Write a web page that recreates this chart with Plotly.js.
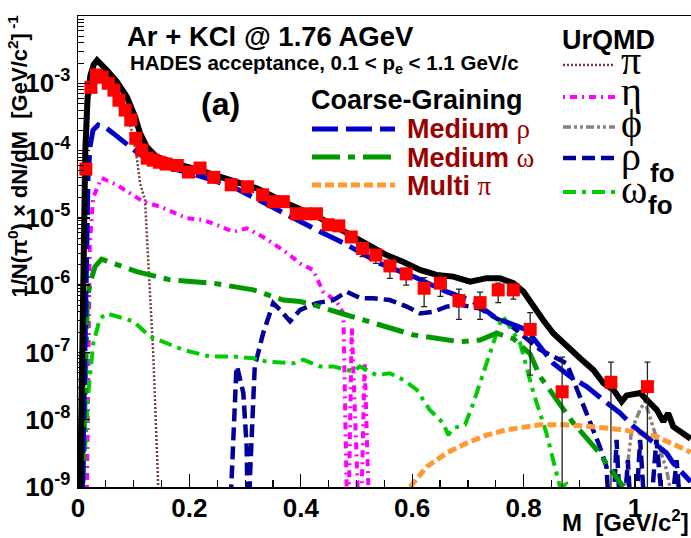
<!DOCTYPE html>
<html><head><meta charset="utf-8">
<script src="https://cdn.plot.ly/plotly-3.0.1.min.js"></script>
<style>html,body{margin:0;padding:0;background:#fff}#chart{width:691px;height:538px}</style>
</head><body><div id="chart"></div>
<script>
// ---------- HADES data (red squares) ----------
const dataM = [0.0141,0.0232,0.0332,0.0433,0.0544,0.0645,0.0735,0.0846,0.0947,0.1037,0.1143,0.1244,0.135,0.146,0.1581,0.1783,0.1984,0.2191,0.2437,0.275,0.3042,0.3314,0.3505,0.3686,0.3918,0.4089,0.4281,0.4492,0.4683,0.4905,0.5107,0.5348,0.56,0.5892,0.6214,0.6507,0.6839,0.7218,0.7544,0.7816,0.8118,0.8692,0.9568,1.0223];
const dataY = [5.3e-5,8.7e-4,1.33e-3,1.23e-3,1.0e-3,7.9e-4,5.6e-4,4.0e-4,2.85e-4,1.52e-4,1.02e-4,7.7e-5,7.2e-5,6.7e-5,6.3e-5,6.0e-5,4.8e-5,5.5e-5,4.0e-5,3.1e-5,2.9e-5,2.2e-5,1.74e-5,1.74e-5,1.15e-5,1.15e-5,1.15e-5,7.9e-6,7.6e-6,5.2e-6,3.5e-6,2.8e-6,1.93e-6,1.47e-6,9.0e-7,1.07e-6,5.9e-7,5.5e-7,8.5e-7,8.5e-7,2.2e-7,2.6e-8,3.6e-8,3.1e-8];
const dataErrUp = [0,0,0,0,0,0,0,0,0,0,0,0,0,0,0,0,0,0,0,0,0,0,0,0,0,0,0,0,0,0,5e-7,4e-7,4e-7,3e-7,3.9e-7,3.5e-7,2.8e-7,2.4e-7,2.2e-7,1.5e-7,1.7e-7,5.9e-8,3.6e-8,4.1e-8];
const dataErrDown = [0,0,0,0,0,0,0,0,0,0,0,0,0,0,0,0,0,0,0,0,0,0,0,0,0,0,0,0,0,0,8.5e-7,7e-7,6.7e-7,4.7e-7,4.2e-7,3.9e-7,2.8e-7,2.4e-7,3.0e-7,2.3e-7,1.74e-7,2.6e-8,3.6e-8,3.1e-8];

// ---------- Total (black) ----------
const totM = [0.004,0.0096,0.0131,0.0171,0.0222,0.0282,0.0342,0.0514,0.0695,0.0876,0.1023,0.1113,0.1234,0.141,0.1652,0.1954,0.2246,0.2548,0.285,0.3208,0.3747,0.4341,0.4945,0.554,0.5842,0.614,0.6436,0.6738,0.704,0.7337,0.7574,0.7816,0.7997,0.8174,0.835,0.8531,0.8773,0.9014,0.9252,0.9431,0.961,0.976,0.985,1.0092,1.0269,1.039,1.0508,1.0596,1.0686,1.0868,1.1];
const totY = [1e-9,2.4e-6,1e-4,6e-4,1.3e-3,1.9e-3,2.2e-3,1.58e-3,1.06e-3,6.3e-4,3.2e-4,1.82e-4,1.14e-4,8.1e-5,6.8e-5,5.75e-5,4.9e-5,4.1e-5,3.45e-5,2.75e-5,1.65e-5,1.0e-5,5.25e-6,2.8e-6,2.2e-6,1.68e-6,1.42e-6,1.34e-6,1.13e-6,1.27e-6,1.27e-6,1.07e-6,8.0e-7,4.8e-7,3.04e-7,1.93e-7,1.22e-7,8.2e-8,5.5e-8,3.5e-8,2.8e-8,1.86e-8,2.3e-8,2.5e-8,1.76e-8,1.4e-8,9.4e-9,1.25e-8,7.9e-9,6.3e-9,5.2e-9];

// ---------- Coarse-Graining ----------
const rhoM = [0.0081,0.0121,0.0179,0.0216,0.0269,0.0363,0.0504,0.0635,0.0903,0.1083,0.135,0.1591,0.2131,0.278,0.3676,0.4286,0.4824,0.5419,0.6023,0.6617,0.7097,0.7514,0.7755,0.8058,0.8294,0.8531,0.8833,0.9132,0.9427,0.973,0.9971,1.0269,1.0566,1.0686,1.0928,1.1];
const rhoY = [1e-9,2e-7,3.6e-5,1.15e-4,2.0e-4,2.4e-4,2.17e-4,1.8e-4,1.21e-4,9.1e-5,6.5e-5,5.8e-5,4.3e-5,2.9e-5,1.18e-5,6.6e-6,4.0e-6,2.1e-6,1.34e-6,8.0e-7,5.7e-7,3.2e-7,2.7e-7,2.16e-7,1.22e-7,6.9e-8,4.4e-8,3.1e-8,1.97e-8,1.26e-8,8.0e-9,5.0e-9,3.2e-9,2.26e-9,1.43e-9,1.2e-9];
const omM = [0.0091,0.0167,0.0216,0.0305,0.0423,0.0635,0.1054,0.1652,0.2427,0.3148,0.3686,0.3989,0.4225,0.4824,0.5419,0.6023,0.6436,0.6859,0.7218,0.7514,0.7816,0.8118,0.8294,0.8601,0.8894,0.9317,0.9609,0.979];
const omY = [1.2e-9,6.0e-7,1.07e-6,1.88e-6,2.43e-6,2.1e-6,1.59e-6,1.2e-6,1.07e-6,8.5e-7,6.0e-7,5.7e-7,5.1e-7,3.6e-7,2.57e-7,1.82e-7,1.62e-7,1.44e-7,1.53e-7,1.93e-7,1.6e-7,9.5e-8,4.4e-8,2.0e-8,8.9e-9,3.55e-9,1.6e-9,1e-9];
const mpiM = [0.5963,0.6261,0.6617,0.698,0.7337,0.7695,0.8294,0.8773,0.9193,0.979,1.039,1.0928,1.1];
const mpiY = [1e-9,2.0e-9,3.2e-9,4.5e-9,5.9e-9,7.1e-9,8.4e-9,8.4e-9,7.9e-9,7.1e-9,5.6e-9,3.55e-9,3.3e-9];

// ---------- UrQMD ----------
const piM = [0.0101,0.0141,0.0201,0.0302,0.0403,0.0604,0.0806,0.0964,0.1054,0.1113,0.1203,0.1262,0.1353,0.1441,0.147];
const piY = [1e-9,4e-5,6e-4,1.2e-3,1.2e-3,8.5e-4,4.5e-4,2.0e-4,8.1e-5,3.3e-5,1.85e-5,1.9e-6,8.7e-8,1e-9,1e-10];
const etaM = [0.0161,0.0181,0.0212,0.0272,0.0423,0.0695,0.0964,0.1172,0.147,0.1954,0.2246,0.2488,0.279,0.3029,0.3324,0.3686,0.3989,0.422,0.4401,0.4643,0.4764,0.4845,0.4915,0.5066,0.5147,0.5248];
const etaY = [1e-9,1e-7,4e-6,2e-5,3.9e-5,3.1e-5,2.2e-5,1.74e-5,1.47e-5,9.9e-6,9.3e-6,7.9e-6,6.2e-6,7.0e-6,5.2e-6,3.3e-6,2.1e-6,1.68e-6,8.0e-7,5.7e-7,3.8e-7,1e-10,2.4e-7,1e-10,6.9e-8,1e-10];
const phiM = [0.977,0.982,0.9941,1.009,1.018,1.0269,1.0445,1.0566,1.0626,1.0676];
const phiY = [1e-10,1e-9,7.1e-9,1.4e-8,1.86e-8,1.1e-8,4.0e-9,1.8e-9,1e-9,1e-10];
const rfoM = [0.2699,0.279,0.2843,0.2855,0.2968,0.3028,0.3057,0.3087,0.3173,0.3324,0.3505,0.3626,0.3807,0.3989,0.4286,0.4583,0.4824,0.5066,0.5298,0.56,0.5902,0.614,0.6376,0.6617,0.6859,0.7218,0.7514,0.7755,0.8058,0.8294,0.8773,0.9014,0.9196,0.9367,0.9488,0.9578,0.9669,0.977,0.9871,0.9971,1.0092,1.0223,1.0384,1.0576,1.0747,1.0878];
const rfoY = [1e-10,9.9e-9,5.5e-8,6.2e-8,2.5e-8,4.0e-9,1e-10,1.4e-9,6.2e-8,1.93e-7,5.4e-7,4.3e-7,2.9e-7,4.3e-7,5.4e-7,6.0e-7,8.0e-7,6.4e-7,6.4e-7,6.0e-7,4.8e-7,3.8e-7,4.0e-7,4.8e-7,5.1e-7,4.5e-7,3.2e-7,2.57e-7,1.55e-7,1.1e-7,6.9e-8,2.2e-8,8.9e-9,4e-9,2e-9,1e-10,5e-9,1e-10,2.5e-9,1e-10,5e-9,1e-10,5e-9,1e-10,2.5e-9,1e-10];
const ofoM = [0.0096,0.0185,0.0275,0.0395,0.0514,0.0993,0.1292,0.1891,0.2367,0.279,0.3153,0.3384,0.3868,0.4044,0.4346,0.4583,0.4824,0.4941,0.5059,0.5358,0.56,0.5842,0.6079,0.6315,0.6557,0.6648,0.6738,0.695,0.7097,0.7337,0.7574,0.7635,0.7937,0.8178,0.841,0.8652,0.8763,0.8863];
const ofoY = [1.27e-9,2.5e-8,1.37e-7,3.2e-7,3.8e-7,2.9e-7,1.72e-7,1.09e-7,8.7e-8,8.7e-8,8.2e-8,7.3e-8,6.9e-8,7.8e-8,6.2e-8,6.2e-8,5.5e-8,5.2e-8,6.2e-8,4.6e-8,4.9e-8,3.9e-8,2.8e-8,1.4e-8,8.9e-9,5.9e-9,7.5e-9,8.4e-9,1.76e-8,6.9e-8,2.7e-7,3.4e-7,1.37e-7,2.5e-8,6.3e-9,1e-9,1.1e-9,1e-10];

// ---------- tick labels ----------
const xTickVals = [0,0.2,0.4,0.6,0.8,1];
const xTickText = ['0','0.2','0.4','0.6','0.8','1'];
const yTickVals = [1e-9,1e-8,1e-7,1e-6,1e-5,1e-4,1e-3,1e-2];
const yTickText = ['10<sup>-9</sup>','10<sup>-8</sup>','10<sup>-7</sup>','10<sup>-6</sup>','10<sup>-5</sup>','10<sup>-4</sup>','10<sup>-3</sup>','10<sup>-2</sup>'];

// ---------- styles ----------
const S = {
  tot:{color:'#000000',width:6,dash:'solid'},
  rho:{color:'#0000cc',width:5,dash:'26px,8px'},
  om:{color:'#009900',width:5,dash:'28px,8px,7px,8px'},
  mpi:{color:'#ff9933',width:5,dash:'9px,4px'},
  pi:{color:'#7a3b3b',width:2.5,dash:'2px,2px'},
  eta:{color:'#ff00ff',width:4,dash:'2px,5px,7px,5px'},
  phi:{color:'#8c8078',width:3.5,dash:'8px,3px,3px,3px,3px,3px'},
  rfo:{color:'#000099',width:4.5,dash:'13px,6px'},
  ofo:{color:'#00cc00',width:4,dash:'13px,6px,4px,6px'}
};
function ln(x,y,s){return {type:'scatter',mode:'lines',x:x,y:y,line:{color:s.color,width:s.width,dash:s.dash},hoverinfo:'skip',showlegend:false,cliponaxis:true};}

const traces = [
  ln(piM,piY,S.pi), ln(etaM,etaY,S.eta), ln(phiM,phiY,S.phi), ln(rfoM,rfoY,S.rfo), ln(ofoM,ofoY,S.ofo),
  ln(mpiM,mpiY,S.mpi), ln(omM,omY,S.om), ln(rhoM,rhoY,S.rho),
  ln(totM,totY,S.tot),
  {type:'scatter',mode:'markers',x:dataM,y:dataY,showlegend:false,hoverinfo:'skip',
   marker:{symbol:'square',size:13,color:'#ff0000',line:{width:0}},
   error_y:{type:'data',symmetric:false,array:dataErrUp,arrayminus:dataErrDown,color:'#222',thickness:1.3,width:3}}
];

// ---------- geometry helpers (pixel -> paper) ----------
const L=78,R=691,T=16,B=487;
function px(x){return (x-L)/(R-L);}
function py(y){return (B-y)/(B-T);}

const FF='Liberation Sans, Arial, sans-serif';
function ann(text,x,y,size,opts){
  return Object.assign({text:text,xref:'paper',yref:'paper',x:px(x),y:py(y),showarrow:false,
    xanchor:'left',yanchor:'middle',font:{family:FF,size:size,color:'#000',weight:700}},opts||{});
}
const G = 'font-family:Liberation Serif, serif;font-weight:normal';
const DR = {family:FF,size:27,color:'#990000',weight:700};
const annotations = [
  ann('1/N(π<sup>0</sup>) × dN/dM&nbsp;&nbsp;[GeV/c<sup>2</sup>]<sup> -1</sup>',17,13,22,{xanchor:'center',yanchor:'top',textangle:-90}),
  ann('M&nbsp;&nbsp;[GeV/c<sup>2</sup>]',691,521,24,{xanchor:'right'}),
  ann('Ar + KCl @ 1.76 AGeV',125,36,27.5),
  ann('HADES acceptance, 0.1 &lt; p<sub>e</sub> &lt; 1.1 GeV/c',128,64,20.5),
  ann('(a)',220,104,32,{xanchor:'center'}),
  ann('Coarse-Graining',309,100,27),
  ann('Medium <span style="'+G+'">ρ</span>',405,129,27,{font:DR}),
  ann('Medium <span style="'+G+'">ω</span>',405,158,27,{font:DR}),
  ann('Multi <span style="'+G+'">π</span>',405,186,27,{font:DR}),
  ann('UrQMD',560,40,27),
  ann('<span style="'+G+'">π</span>',619,61,40),
  ann('<span style="'+G+'">η</span>',619,92,40),
  ann('<span style="'+G+'">ϕ</span>',619,124,40),
  ann('<span style="'+G+'">ρ</span>',619,156,40),
  ann('<span style="'+G+'">ω</span>',619,189,40),
  ann('fo',648,173,26),
  ann('fo',646,205,26)
];
function seg(x0,x1,y,s){return {type:'line',xref:'paper',yref:'paper',x0:px(x0),x1:px(x1),y0:py(y),y1:py(y),line:{color:s.color,width:s.width,dash:s.dash}};}
const shapes = [
  seg(312,395,129,S.rho), seg(312,395,157,S.om), seg(312,395,185,S.mpi),
  seg(563,615,65,S.pi), seg(563,615,97,S.eta), seg(563,615,127,S.phi), seg(563,615,158,S.rfo), seg(563,615,192,S.ofo)
];

// minor y ticks (2..9 per decade)
const yMinor=[]; for(let e=-9;e<-2;e++){for(let k=2;k<10;k++){yMinor.push(k*Math.pow(10,e));}}

const layout = {
  width:691,height:538,margin:{l:L,r:691-R,t:T,b:538-B},
  paper_bgcolor:'#fff',plot_bgcolor:'#fff',showlegend:false,
  xaxis:{range:[0,(R-L)/557],tickmode:'array',tickvals:xTickVals,ticktext:xTickText,
    ticks:'inside',ticklen:13,tickwidth:1.3,tickcolor:'#000',showgrid:false,zeroline:false,
    showline:true,linecolor:'#000',linewidth:1.5,mirror:true,ticklabelstandoff:-3,
    tickfont:{family:FF,size:26,color:'#000',weight:700},
    minor:{dtick:0.05,tick0:0,ticks:'inside',ticklen:7,tickwidth:1.2,tickcolor:'#000',showgrid:false}},
  yaxis:{type:'log',range:[-9,-2],tickmode:'array',tickvals:yTickVals,ticktext:yTickText,
    ticks:'inside',ticklen:12,tickwidth:1.3,tickcolor:'#000',showgrid:false,zeroline:false,
    showline:true,linecolor:'#000',linewidth:1.5,mirror:false,ticklabelstandoff:1,
    tickfont:{family:FF,size:26,color:'#000',weight:700},
    minor:{tickmode:'array',tickvals:yMinor,ticks:'inside',ticklen:6,tickwidth:1,tickcolor:'#000',showgrid:false}},
  annotations:annotations,shapes:shapes
};
Plotly.newPlot('chart',traces,layout,{staticPlot:true,displayModeBar:false});
</script></body></html>
